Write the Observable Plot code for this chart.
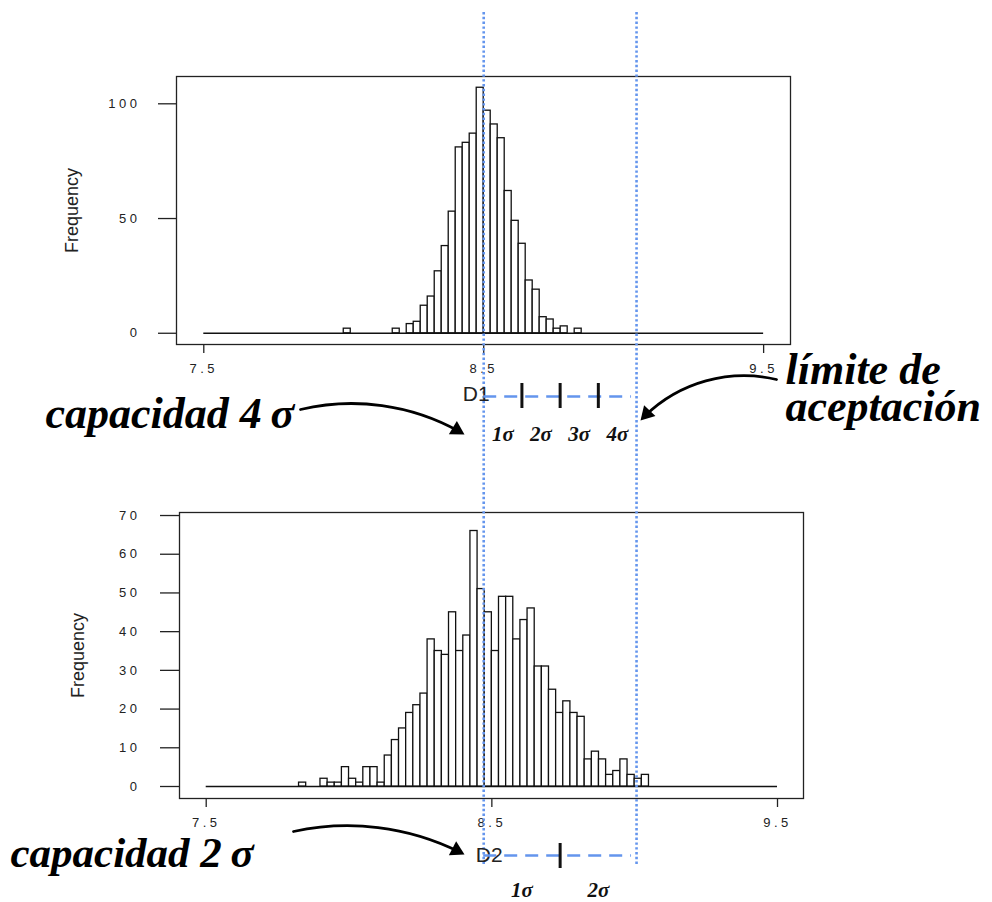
<!DOCTYPE html>
<html><head><meta charset="utf-8">
<script src="https://cdn.jsdelivr.net/npm/d3@7"></script>
<script src="https://cdn.jsdelivr.net/npm/@observablehq/plot@0.6"></script>
<style>
html,body{margin:0;padding:0;background:#fff;overflow:hidden;}
#fig{position:relative;width:992px;height:902px;overflow:hidden;background:#fff;}
#fig svg{position:absolute;left:0;}
g[aria-label$="tick label"] text{letter-spacing:3.5px;}
</style></head><body><div id="fig"></div>
<script>
// ---------- data ----------
const binWidth = 0.025;
// D1 histogram (non-empty bins: left edge, count)
const d1Starts = [8.000, 8.175, 8.225, 8.250, 8.275, 8.300, 8.325, 8.350, 8.375, 8.400, 8.425, 8.450, 8.475,
                  8.500, 8.525, 8.550, 8.575, 8.600, 8.625, 8.650, 8.675, 8.700, 8.725, 8.750, 8.775, 8.825];
const d1Counts = [2, 2, 4, 5, 12, 16, 27, 38, 53, 81, 83, 87, 107,
                  97, 91, 85, 62, 49, 39, 23, 19, 7, 6, 2, 3, 2];
// D2 histogram
const d2Starts = [7.825, 7.900, 7.925, 7.950, 7.975, 8.000, 8.025, 8.050, 8.075, 8.100, 8.125, 8.150, 8.175,
                  8.200, 8.225, 8.250, 8.275, 8.300, 8.325, 8.350, 8.375, 8.400, 8.425, 8.450, 8.475, 8.500,
                  8.525, 8.550, 8.575, 8.600, 8.625, 8.650, 8.675, 8.700, 8.725, 8.750, 8.775, 8.800, 8.825,
                  8.850, 8.875, 8.900, 8.925, 8.950, 8.975, 9.000, 9.025];
const d2Counts = [1, 2, 1, 1, 5, 2, 1, 5, 5, 1, 8, 12, 15,
                  19, 21, 24, 38, 35, 34, 45, 35, 39, 66, 51, 45, 35,
                  49, 49, 38, 43, 46, 31, 31, 25, 19, 22, 19, 18, 7,
                  9, 7, 3, 4, 7, 3, 2, 3];
const xTicks = [7.5, 8.5, 9.5];
const d1YTicks = [0, 50, 100];
const d2YTicks = [0, 10, 20, 30, 40, 50, 60, 70];
const axisRange = [7.5, 9.5];
const yLabel = "Frequency";
// specification annotation
const target = 8.5;
const limit = 9.046;
const d1Capacity = 4;
const d2Capacity = 2;
const d1Name = "D1", d2Name = "D2";
const d1Caption = "capacidad 4\u2009σ";
const d2Caption = "capacidad 2\u2009σ";
const limitCaption = "límite de\naceptación";

// ---------- figure ----------
const fig = document.getElementById("fig");
const axisFont = "'Liberation Sans', Arial, sans-serif";

function histogram(starts, counts, o) {
  const bins = starts.map((s, i) => ({x0: s, x1: s + binWidth, count: counts[i]}));
  return Plot.plot({
    width: o.width, height: o.height,
    marginLeft: o.ml, marginRight: o.mr, marginTop: o.mt, marginBottom: o.mb,
    style: {fontFamily: axisFont, color: "#222", background: "transparent", overflow: "visible"},
    x: {domain: o.xDomain},
    y: {domain: o.yDomain},
    marks: [
      Plot.frame({stroke: "#222", strokeWidth: 1.3}),
      Plot.ruleY([0], {x1: axisRange[0], x2: axisRange[1], stroke: "#111", strokeWidth: 1.3}),
      Plot.rect(bins, {x1: "x0", x2: "x1", y1: 0, y2: "count", fill: "white", stroke: "#111", strokeWidth: 1.3}),
      Plot.axisX({ticks: xTicks, tickSize: 9, tickPadding: 10, tickFormat: d3.format(".1f"), fontSize: 13, label: null, strokeWidth: 1.3}),
      Plot.axisY({ticks: o.yTicks, tickSize: o.ts, tickPadding: o.tp, fontSize: 13, label: null, strokeWidth: 1.3}),
      Plot.text([yLabel], {text: d => d, frameAnchor: "left", textAnchor: "middle", lineAnchor: "middle",
        rotate: -90, dx: o.lx, fontSize: 18, fill: "#222"})
    ]
  });
}

const top1 = histogram(d1Starts, d1Counts, {
  width: 800, height: 390, ml: 176, mr: 10, mt: 76, mb: 46,
  xDomain: [7.4025, 9.596], yDomain: [-4.9, 111.9], yTicks: d1YTicks, ts: 18, tp: 18, lx: -104
});
top1.style.top = "0px";
fig.appendChild(top1);

const bot = histogram(d2Starts, d2Counts, {
  width: 820, height: 440, ml: 179, mr: 17, mt: 72, mb: 82,
  xDomain: [7.4065, 9.591], yDomain: [-3.1, 70.78], yTicks: d2YTicks, ts: 19, tp: 20, lx: -101
});
bot.style.top = "440px";
fig.appendChild(bot);

// annotation layer uses the top histogram's own x scale
const sx = top1.scale("x");
const X = d3.scaleLinear(sx.domain, sx.range);
const sig1 = (limit - target) / d1Capacity;
const sig2 = (limit - target) / d2Capacity;
const blue = "#6495ed";
const serif = "'Liberation Serif', 'Times New Roman', serif";

const k1 = d3.range(1, d1Capacity + 1);
const k2 = d3.range(1, d2Capacity + 1);

// curved arrows (page pixels) with filled heads oriented along the end tangent
const arrows = [
  {x1: 300, y1: 409, x2: 464, y2: 434, bend: 22},
  {x1: 293, y1: 831, x2: 464, y2: 854, bend: 20},
  {x1: 776, y1: 379, x2: 640, y2: 420, bend: -30}
];
const headR = 5.8;
const heads = arrows.map(a => {
  const phi = Math.atan2(a.y2 - a.y1, a.x2 - a.x1) + a.bend * Math.PI / 180;
  const off = 2 * Math.sqrt((Math.PI * headR * headR) / (Math.sqrt(3) * 3));
  return {x: a.x2 - off * Math.cos(phi), y: a.y2 - off * Math.sin(phi), rot: phi * 180 / Math.PI + 90};
});

const overlay = Plot.plot({
  width: 992, height: 902, margin: 0,
  x: {domain: [0, 992], range: [0, 992]},
  y: {domain: [0, 902], range: [0, 902]},
  r: {type: "identity"},
  axis: null,
  style: {background: "transparent", overflow: "visible"},
  marks: [
    // specification lines
    Plot.ruleX([target, limit], {x: X, y1: 12, y2: 866, stroke: blue, strokeWidth: 2.6, strokeDasharray: "2.4,2.4"}),
    // D1 scale
    Plot.text([d1Name], {x: X(target) - 21, y: 400, text: d => d, textAnchor: "start", lineAnchor: "bottom",
      fontFamily: axisFont, fontSize: 21, fill: "#222", style: "letter-spacing:3px"}),
    Plot.ruleY([396], {x1: X(target), x2: X(limit) - 5, stroke: blue, strokeWidth: 2.6, strokeDasharray: "13,8"}),
    Plot.ruleX(k1.slice(0, -1), {x: k => X(target + k * sig1), y1: 383, y2: 408, stroke: "#111", strokeWidth: 3}),
    Plot.text(k1, {x: k => X(target + (k - 0.5) * sig1), y: 440, text: k => `${k}σ`, lineAnchor: "bottom",
      fontFamily: serif, fontStyle: "italic", fontWeight: "bold", fontSize: 21, fill: "#111"}),
    // D2 scale
    Plot.text([d2Name], {x: X(target) - 8, y: 861, text: d => d, textAnchor: "start", lineAnchor: "bottom",
      fontFamily: axisFont, fontSize: 21, fill: "#222", style: "letter-spacing:3px"}),
    Plot.ruleY([855], {x1: X(target), x2: X(limit) - 5, stroke: blue, strokeWidth: 2.6, strokeDasharray: "13,8"}),
    Plot.ruleX(k2.slice(0, -1), {x: k => X(target + k * sig2), y1: 843, y2: 868, stroke: "#111", strokeWidth: 3}),
    Plot.text(k2, {x: k => X(target + (k - 0.5) * sig2), y: 896, text: k => `${k}σ`, lineAnchor: "bottom",
      fontFamily: serif, fontStyle: "italic", fontWeight: "bold", fontSize: 21, fill: "#111"}),
    // captions
    Plot.text([d1Caption], {x: 45, y: 427, text: d => d, textAnchor: "start", lineAnchor: "bottom",
      fontFamily: serif, fontStyle: "italic", fontWeight: "bold", fontSize: 44, fill: "#000"}),
    Plot.text([d2Caption], {x: 10, y: 866, text: d => d, textAnchor: "start", lineAnchor: "bottom",
      fontFamily: serif, fontStyle: "italic", fontWeight: "bold", fontSize: 43, fill: "#000"}),
    Plot.text([limitCaption], {x: 785, y: 420, text: d => d, textAnchor: "start", lineAnchor: "bottom", lineHeight: 0.84,
      fontFamily: serif, fontStyle: "italic", fontWeight: "bold", fontSize: 44, fill: "#000"}),
    // arrows
    ...arrows.map(a => Plot.arrow([a], {x1: "x1", y1: "y1", x2: "x2", y2: "y2", bend: a.bend, stroke: "#000", strokeWidth: 2.8, headLength: 0, insetEnd: 6})),
    Plot.dot(heads, {x: "x", y: "y", r: headR, symbol: "triangle", rotate: "rot", fill: "#000", stroke: "none"})
  ]
});
overlay.style.top = "0px";
fig.appendChild(overlay);
</script>
</body></html>
